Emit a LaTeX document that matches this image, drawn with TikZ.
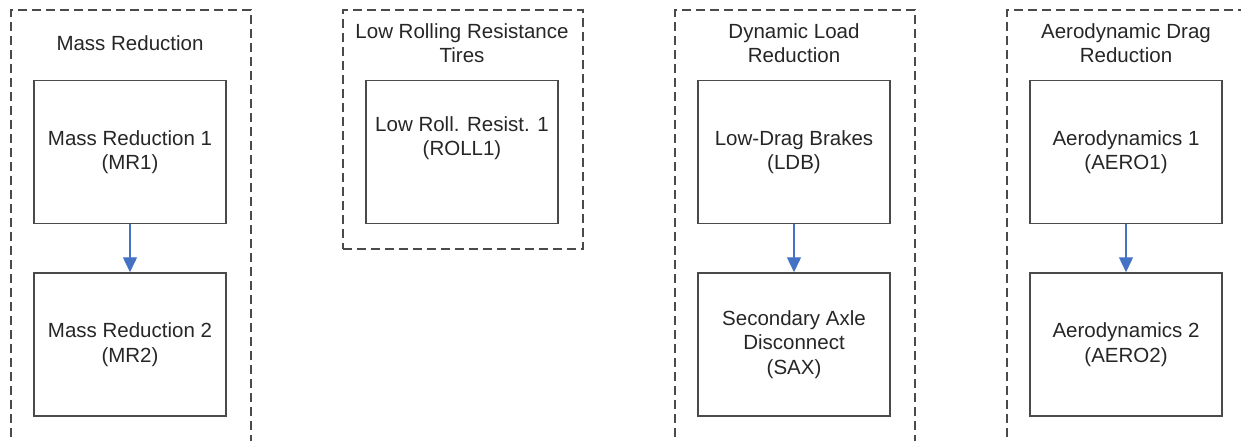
\documentclass[tikz,border=0pt]{standalone}
\usepackage{fontspec}
\setmainfont{Liberation Sans}
\usetikzlibrary{arrows.meta}
\definecolor{frame}{HTML}{4A4A4A}
\definecolor{txt}{HTML}{262626}
\definecolor{arr}{HTML}{4472C4}
\begin{document}
\begin{tikzpicture}[x=1pt,y=-1pt,
  group/.style={draw=frame, dash pattern=on 9pt off 5pt, line width=1.5pt, rectangle, inner sep=0pt, anchor=north west, minimum width=240pt},
  item/.style={draw=frame, line width=1.5pt, rectangle, minimum width=192pt, minimum height=143pt, inner sep=0pt, align=center, text=txt, font=\fontsize{20.5}{24.5}\selectfont},
  lbl/.style={align=center, text=txt, inner sep=0pt, font=\fontsize{20.5}{24.5}\selectfont},
  link/.style={draw=arr, line width=1.4pt, -{Triangle[width=14pt,length=15pt]}}]
\useasboundingbox (0,0) rectangle (1241,440);
\clip (0,0) rectangle (1241,440);
% group frames
\node[group, minimum height=460pt] (g1) at (10,9) {};
\node[group, minimum height=239pt] (g2) at (342,9) {};
\node[group, minimum height=460pt] (g3) at (674,9) {};
\node[group, minimum height=460pt] (g4) at (1006,9) {};
% titles
\node[lbl] (t1) at (130,43) {Mass Reduction};
\node[lbl] (t2) at (462,43) {Low Rolling Resistance\\Tires};
\node[lbl] (t3) at (794,43) {Dynamic Load\\Reduction};
\node[lbl] (t4) at (1126,43) {Aerodynamic Drag\\Reduction};
% items
\node[item] (mr1) at (130,152) {Mass Reduction 1\\(MR1)};
\node[item] (mr2) at (130,344.5) {Mass Reduction 2\\(MR2)};
\node[item] (roll1) at (462,152) {Low Roll. Resist. 1\\(ROLL1)\\\strut};
\node[item] (ldb) at (794,152) {Low-Drag Brakes\\(LDB)};
\node[item] (sax) at (794,344.5) {Secondary Axle\\Disconnect\\(SAX)};
\node[item] (aero1) at (1126,152) {Aerodynamics 1\\(AERO1)};
\node[item] (aero2) at (1126,344.5) {Aerodynamics 2\\(AERO2)};
% connectors
\draw[link] (mr1.south) -- (mr2.north);
\draw[link] (ldb.south) -- (sax.north);
\draw[link] (aero1.south) -- (aero2.north);
\end{tikzpicture}
\end{document}
